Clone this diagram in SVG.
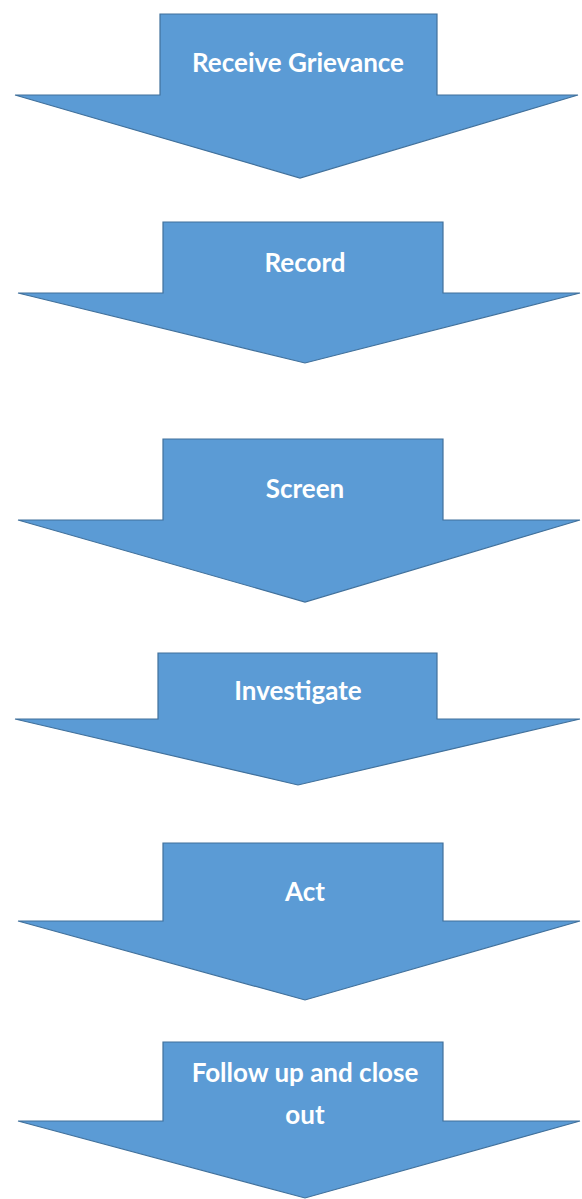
<svg xmlns="http://www.w3.org/2000/svg" width="582" height="1199" viewBox="0 0 582 1199">
<style>
.arrow{fill:#5b9bd5;stroke:#41719c;stroke-width:1.2;stroke-linejoin:miter}
.lbl{fill:#ffffff;font-family:Lato,"Open Sans","Liberation Sans",sans-serif;font-weight:bold;font-size:26px;text-anchor:middle}
</style>
<rect width="582" height="1199" fill="#ffffff"/>
<g id="connectors"></g>
<g id="n1">
<path class="arrow" d="M160,14 H437 V95 H578 L300,178 L15,95 H160 Z"/>
<text class="lbl" x="298" y="72">Receive Grievance</text>
</g>
<g id="n2">
<path class="arrow" d="M163,222 H443 V293 H580 L305,363 L18,293 H163 Z"/>
<text class="lbl" x="305" y="272">Record</text>
</g>
<g id="n3">
<path class="arrow" d="M163,439 H443 V520 H580 L305,602 L18,520 H163 Z"/>
<text class="lbl" x="305" y="498">Screen</text>
</g>
<g id="n4">
<path class="arrow" d="M158,653 H437 V719 H580 L298,785 L15,719 H158 Z"/>
<text class="lbl" x="298" y="700">Investigate</text>
</g>
<g id="n5">
<path class="arrow" d="M163,843 H443 V921 H580 L305,1000 L18,921 H163 Z"/>
<text class="lbl" x="305" y="901">Act</text>
</g>
<g id="n6">
<path class="arrow" d="M163,1042 H443 V1121 H580 L305,1198 L18,1121 H163 Z"/>
<text class="lbl" x="305" y="1082">Follow up and close</text>
<text class="lbl" x="305" y="1124">out</text>
</g>
</svg>
